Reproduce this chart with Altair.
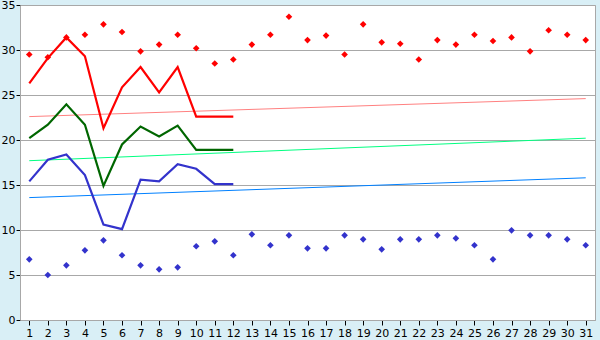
import altair as alt
import pandas as pd

days = list(range(1, 32))

max_points = [29.5, 29.2, 31.4, 31.7, 32.85, 32.0, 29.85, 30.6, 31.7, 30.2,
              28.5, 28.95, 30.6, 31.7, 33.7, 31.1, 31.6, 29.5, 32.85, 30.85,
              30.7, 28.95, 31.1, 30.6, 31.7, 31.0, 31.4, 29.85, 32.2, 31.7, 31.1]
min_points = [6.74, 5.0, 6.07, 7.74, 8.85, 7.19, 6.07, 5.63, 5.85, 8.19,
              8.74, 7.19, 9.52, 8.3, 9.41, 7.96, 7.96, 9.41, 8.96, 7.85,
              8.96, 8.96, 9.41, 9.07, 8.3, 6.74, 9.96, 9.41, 9.41, 8.96, 8.3]

line_days = list(range(1, 13))
red_line = [26.3, 29.1, 31.4, 29.3, 21.3, 25.85, 28.1, 25.3, 28.1, 22.6, 22.6, 22.6]
green_line = [20.2, 21.7, 23.96, 21.7, 14.9, 19.5, 21.5, 20.4, 21.6, 18.9, 18.9, 18.9]
blue_line = [15.4, 17.8, 18.4, 16.1, 10.6, 10.1, 15.6, 15.4, 17.3, 16.8, 15.1, 15.1]

trend_days = [1, 31]
red_trend = [22.6, 24.6]
green_trend = [17.7, 20.2]
blue_trend = [13.6, 15.8]

x_scale = alt.Scale(domain=[0.5, 31.5], nice=False, zero=False)
y_scale = alt.Scale(domain=[0, 35], nice=False)

x_axis = alt.Axis(values=days, title=None, grid=False, tickColor="black", tickSize=5,
                  domainColor="#a8a8a8", labelFontSize=11, labelColor="black",
                  labelFont="DejaVu Sans", labelPadding=2)
y_axis = alt.Axis(values=[0, 5, 10, 15, 20, 25, 30, 35], title=None, grid=True,
                  gridColor="#a8a8a8", tickColor="black", tickSize=4,
                  domainColor="#a8a8a8", labelFontSize=11, labelColor="black",
                  labelFont="DejaVu Sans", labelPadding=1)

def line_layer(xs, ys, color, width):
    df = pd.DataFrame({"day": xs, "v": ys})
    return alt.Chart(df).mark_line(color=color, strokeWidth=width, interpolate="linear").encode(
        x=alt.X("day:Q", scale=x_scale, axis=x_axis),
        y=alt.Y("v:Q", scale=y_scale, axis=y_axis),
    )

def point_layer(xs, ys, color):
    df = pd.DataFrame({"day": xs, "v": ys})
    return alt.Chart(df).mark_point(shape="diamond", filled=True, size=44, color=color, opacity=1).encode(
        x=alt.X("day:Q", scale=x_scale, axis=x_axis),
        y=alt.Y("v:Q", scale=y_scale, axis=y_axis),
    )

chart = alt.layer(
    line_layer(trend_days, red_trend, "#ff8080", 1),
    line_layer(trend_days, green_trend, "#00ff80", 1),
    line_layer(trend_days, blue_trend, "#0080ff", 1),
    line_layer(line_days, red_line, "#ff0000", 2.2),
    line_layer(line_days, green_line, "#006600", 2.2),
    line_layer(line_days, blue_line, "#3333cc", 2.2),
    point_layer(days, max_points, "#ff0000"),
    point_layer(days, min_points, "#3333cc"),
).properties(
    width=575, height=315,
    padding={"left": 20, "top": 5, "right": 5, "bottom": 20},
    autosize=alt.AutoSizeParams(type="none"),
    background="#d9eff6",
).configure_view(fill="white", stroke="#a8a8a8", strokeWidth=1)

chart.save("out.html", embed_options={"renderer": "svg", "actions": False})
